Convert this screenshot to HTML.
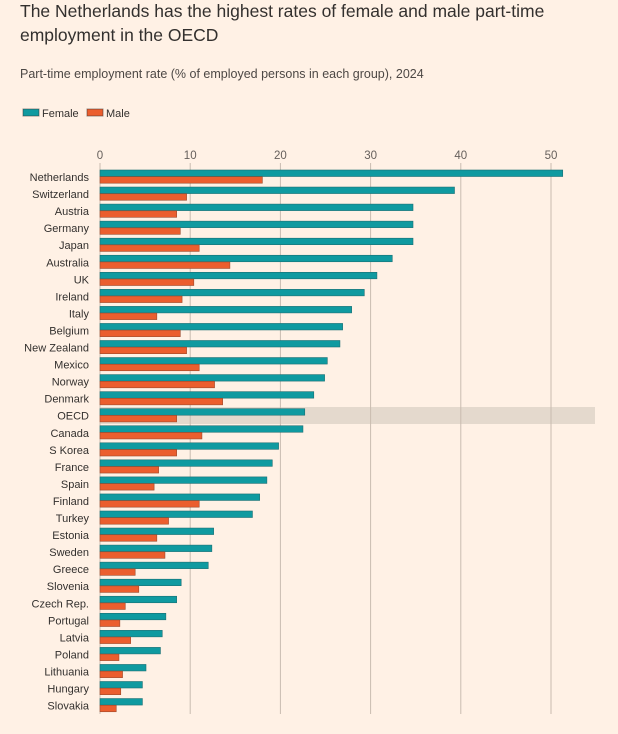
<!DOCTYPE html>
<html><head><meta charset="utf-8"><style>
body{margin:0;background:#fff1e5;}
svg{display:block;font-family:"Liberation Sans",sans-serif;}
</style></head><body>
<svg width="618" height="734" xmlns="http://www.w3.org/2000/svg">
<rect width="618" height="734" fill="#fff1e5"/>
<text x="20" y="17" font-size="17.5" fill="#33302e">The Netherlands has the highest rates of female and male part-time</text>
<text x="20" y="41" font-size="17.5" fill="#33302e">employment in the OECD</text>
<text x="20" y="78" font-size="12.5" fill="#4d4845">Part-time employment rate (% of employed persons in each group), 2024</text>
<rect x="23" y="109" width="16" height="7" fill="#0f9aa0" stroke="#33302e" stroke-opacity=".5"/>
<text x="42" y="117" font-size="11" fill="#33302e">Female</text>
<rect x="87" y="109" width="16" height="7" fill="#eb5e2e" stroke="#33302e" stroke-opacity=".5"/>
<text x="106" y="117" font-size="11" fill="#33302e">Male</text>
<rect x="100" y="407" width="495" height="17" fill="#e4d9cd"/>
<g id="grid" stroke="#c9bcb0" stroke-width="1"></g>
<g id="ax" font-size="11.5" fill="#66605c" text-anchor="middle"></g>
<g id="bars"></g>
<g id="labs" font-size="11" fill="#33302e" text-anchor="end"></g>
</svg>
<script>
var d=[["Netherlands",51.3,18.0],["Switzerland",39.3,9.6],["Austria",34.7,8.5],["Germany",34.7,8.9],["Japan",34.7,11.0],["Australia",32.4,14.4],["UK",30.7,10.4],["Ireland",29.3,9.1],["Italy",27.9,6.3],["Belgium",26.9,8.9],["New Zealand",26.6,9.6],["Mexico",25.2,11.0],["Norway",24.9,12.7],["Denmark",23.7,13.6],["OECD",22.7,8.5],["Canada",22.5,11.3],["S Korea",19.8,8.5],["France",19.1,6.5],["Spain",18.5,6.0],["Finland",17.7,11.0],["Turkey",16.9,7.6],["Estonia",12.6,6.3],["Sweden",12.4,7.2],["Greece",12.0,3.9],["Slovenia",9.0,4.3],["Czech Rep.",8.5,2.8],["Portugal",7.3,2.2],["Latvia",6.9,3.4],["Poland",6.7,2.1],["Lithuania",5.1,2.5],["Hungary",4.7,2.3],["Slovakia",4.7,1.8]];
var NS="http://www.w3.org/2000/svg",x0=100,k=9.02;
function el(p,t,a,tx){var e=document.createElementNS(NS,t);for(var i in a)e.setAttribute(i,a[i]);if(tx)e.textContent=tx;document.getElementById(p).appendChild(e);}
for(var v=0;v<=50;v+=10){var x=x0+v*k;el("grid","line",{x1:x,x2:x,y1:163,y2:714});el("ax","text",{x:x,y:159},String(v));}
d.forEach(function(r,i){var c=177+i*17.05;
el("bars","rect",{x:x0,y:c-7,width:r[1]*k,height:6.5,fill:"#0f9aa0",stroke:"#1b6f73","stroke-width":.6});
el("bars","rect",{x:x0,y:c-0.3,width:r[2]*k,height:6.5,fill:"#eb5e2e",stroke:"#9b4a2c","stroke-width":.6});
el("labs","text",{x:89,y:c+4},r[0]);});
</script>
</body></html>
